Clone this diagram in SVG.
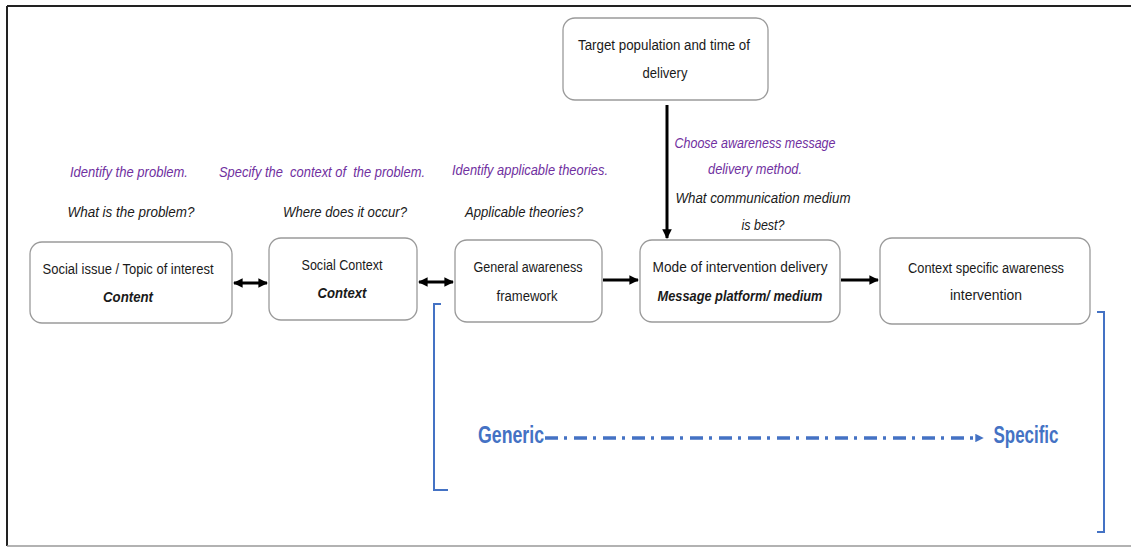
<svg xmlns="http://www.w3.org/2000/svg" width="1131" height="547" viewBox="0 0 1131 547">
<style>
text{font-family:"Liberation Sans Narrow","Liberation Sans",Arial,sans-serif;font-size:14px;fill:#1a1a1a;text-anchor:middle}
.q{font-style:italic}
.p{font-style:italic;fill:#7030A0}
.b{font-style:italic;font-weight:bold}
.box{fill:#fff;stroke:#9a9a9a;stroke-width:1.3}
.arr{stroke:#000;stroke-width:3;fill:none}
.blue{font-weight:bold;font-size:24px;fill:#4472C4}
.br{stroke:#4472C4;stroke-width:2;fill:none}
</style>
<defs>
<marker id="ah" viewBox="0 0 10 10" refX="9" refY="5" markerWidth="3.2" markerHeight="3.2" orient="auto-start-reverse" markerUnits="strokeWidth">
<path d="M0,0 L10,5 L0,10 z" fill="#000"/>
</marker>
<marker id="bh" viewBox="0 0 10 10" refX="2" refY="5" markerWidth="2.4" markerHeight="2.4" orient="auto" markerUnits="strokeWidth">
<path d="M0,0 L10,5 L0,10 z" fill="#4472C4"/>
</marker>
</defs>
<rect x="0" y="0" width="1131" height="547" fill="#fff"/>
<g id="frame">
<line x1="7" y1="6" x2="1131" y2="6" stroke="#222" stroke-width="2"/>
<line x1="7" y1="6" x2="7" y2="546" stroke="#222" stroke-width="2"/>
<line x1="7" y1="546" x2="1131" y2="546" stroke="#999" stroke-width="1.5"/>
</g>
<g id="connectors">
<line class="arr" x1="234" y1="283" x2="267" y2="283" marker-start="url(#ah)" marker-end="url(#ah)"/>
<line class="arr" x1="419" y1="282" x2="453" y2="282" marker-start="url(#ah)" marker-end="url(#ah)"/>
<line class="arr" x1="603" y1="280" x2="638" y2="280" marker-end="url(#ah)"/>
<line class="arr" x1="841" y1="280" x2="878" y2="280" marker-end="url(#ah)"/>
<line class="arr" x1="667" y1="105" x2="667" y2="238" stroke-width="2.5" marker-end="url(#ah)"/>
</g>
<g id="node-target">
<rect class="box" x="563" y="18" width="205" height="82" rx="12"/>
<text x="664" y="50" textLength="172" lengthAdjust="spacingAndGlyphs">Target population and time of</text>
<text x="665" y="78" textLength="45" lengthAdjust="spacingAndGlyphs">delivery</text>
</g>
<g id="node-social-issue">
<rect class="box" x="30" y="242" width="202" height="81" rx="12"/>
<text x="128" y="274" textLength="171" lengthAdjust="spacingAndGlyphs">Social issue / Topic of interest</text>
<text class="b" x="128" y="302" textLength="50" lengthAdjust="spacingAndGlyphs">Content</text>
</g>
<g id="node-social-context">
<rect class="box" x="269" y="238" width="148" height="82" rx="12"/>
<text x="342" y="270" textLength="81" lengthAdjust="spacingAndGlyphs">Social Context</text>
<text class="b" x="342" y="298" textLength="49" lengthAdjust="spacingAndGlyphs">Context</text>
</g>
<g id="node-general">
<rect class="box" x="455" y="240" width="147" height="82" rx="12"/>
<text x="528" y="272" textLength="109" lengthAdjust="spacingAndGlyphs">General awareness</text>
<text x="527" y="301" textLength="61" lengthAdjust="spacingAndGlyphs">framework</text>
</g>
<g id="node-mode">
<rect class="box" x="640" y="240" width="200" height="82" rx="12"/>
<text x="740" y="272" textLength="175" lengthAdjust="spacingAndGlyphs">Mode of intervention delivery</text>
<text class="b" x="740" y="301" textLength="165" lengthAdjust="spacingAndGlyphs">Message platform/ medium</text>
</g>
<g id="node-specific">
<rect class="box" x="880" y="238" width="210" height="86" rx="12"/>
<text x="986" y="273" textLength="156" lengthAdjust="spacingAndGlyphs">Context specific awareness</text>
<text x="986" y="300" textLength="72" lengthAdjust="spacingAndGlyphs">intervention</text>
</g>
<g id="labels">
<text class="p" x="129" y="177" textLength="118" lengthAdjust="spacingAndGlyphs">Identify the problem.</text>
<text class="q" x="131" y="217" textLength="127" lengthAdjust="spacingAndGlyphs">What is the problem?</text>
<text class="p" x="322" y="177" xml:space="preserve" textLength="206" lengthAdjust="spacingAndGlyphs">Specify the  context of  the problem.</text>
<text class="q" x="345" y="217" textLength="124" lengthAdjust="spacingAndGlyphs">Where does it occur?</text>
<text class="p" x="530" y="175" textLength="156" lengthAdjust="spacingAndGlyphs">Identify applicable theories.</text>
<text class="q" x="524" y="217" textLength="118" lengthAdjust="spacingAndGlyphs">Applicable theories?</text>
<text class="p" x="755" y="148" textLength="161" lengthAdjust="spacingAndGlyphs">Choose awareness message</text>
<text class="p" x="755" y="174" textLength="94" lengthAdjust="spacingAndGlyphs">delivery method.</text>
<text class="q" x="763" y="203" textLength="175" lengthAdjust="spacingAndGlyphs">What communication medium</text>
<text class="q" x="763" y="230" textLength="43" lengthAdjust="spacingAndGlyphs">is best?</text>
</g>
<g id="scale">
<path class="br" d="M441,304 H434 V490 H448"/>
<path class="br" d="M1097,312 H1104 V532 H1097"/>
<line x1="545" y1="438" x2="977" y2="438" stroke="#4472C4" stroke-width="3.5" stroke-dasharray="13 6 3 7" marker-end="url(#bh)"/>
<text class="blue" x="511" y="443" textLength="66" lengthAdjust="spacingAndGlyphs">Generic</text>
<text class="blue" x="1026" y="443" textLength="65" lengthAdjust="spacingAndGlyphs">Specific</text>
</g>
</svg>
